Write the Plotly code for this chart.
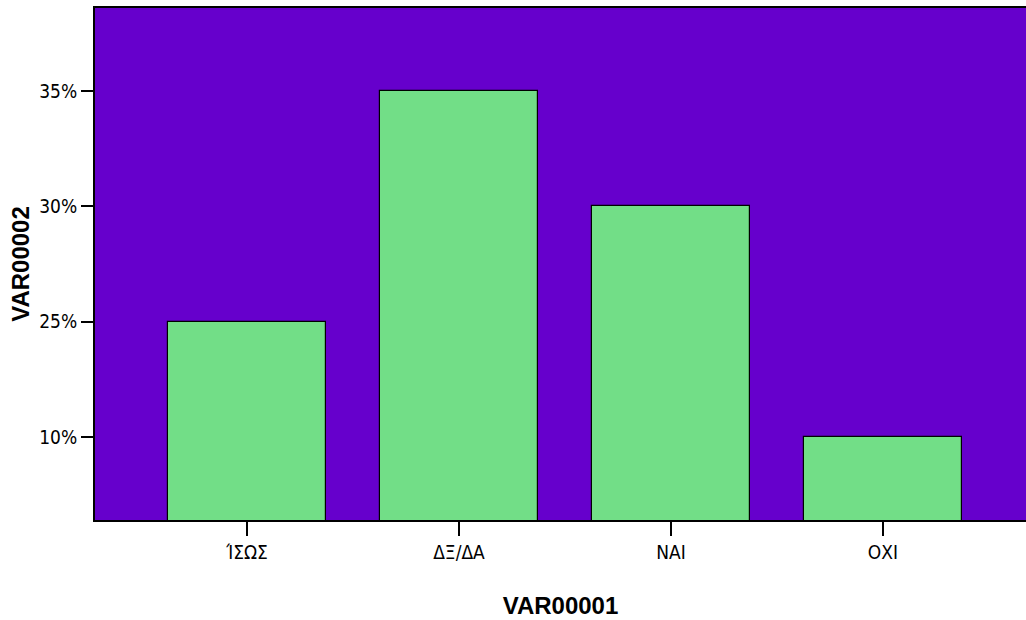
import plotly.graph_objects as go

categories = ["ΊΣΩΣ", "ΔΞ/ΔΑ", "ΝΑΙ", "ΟΧΙ"]
values = [25, 35, 30, 10]
tick_values = sorted(set(values))
tick_labels = [f"{v}%" for v in tick_values]

# The original SPSS axis places the percentages by rank (equal spacing)
rank = {v: i + 1 for i, v in enumerate(tick_values)}
positions = [rank[v] for v in values]

fig = go.Figure()
fig.add_trace(go.Bar(
    x=categories,
    y=positions,
    width=0.745,
    marker=dict(color="#72DE87", line=dict(color="black", width=1.2)),
    customdata=values,
    hovertemplate="%{x}: %{customdata}%<extra></extra>",
))

narrow = "Liberation Sans Narrow, Arial Narrow, DejaVu Sans Condensed, sans-serif"
bold = "Liberation Sans, Arial, sans-serif"

fig.update_layout(
    width=1026, height=620,
    margin=dict(l=95, r=0, t=8, b=100),
    paper_bgcolor="white",
    plot_bgcolor="#6600CC",
    showlegend=False,
    bargap=0,
    xaxis=dict(
        range=[-0.717, 3.675],
        automargin=False,
        showline=True, linecolor="black", linewidth=2, mirror=True,
        ticks="outside", ticklen=14, tickwidth=2, tickcolor="black",
        tickfont=dict(family=narrow, size=19, color="black"),
        showgrid=False, zeroline=False,
        title=dict(text="<b>VAR00001</b>", font=dict(family=bold, size=24, color="black"), standoff=35),
    ),
    yaxis=dict(
        range=[0.281, 4.719],
        automargin=False,
        tickvals=[rank[v] for v in tick_values],
        ticktext=tick_labels,
        showline=True, linecolor="black", linewidth=2,
        ticks="outside", ticklen=12, tickwidth=2, tickcolor="black",
        tickfont=dict(family=narrow, size=19, color="black"),
        showgrid=False, zeroline=False,
        title=dict(text="<b>VAR00002</b>", font=dict(family=bold, size=24, color="black"), standoff=3),
    ),
)

fig.write_html(
    "out.html",
    config={"displayModeBar": False},
    post_script="document.body.style.margin='0';document.body.style.overflow='hidden';",
)
